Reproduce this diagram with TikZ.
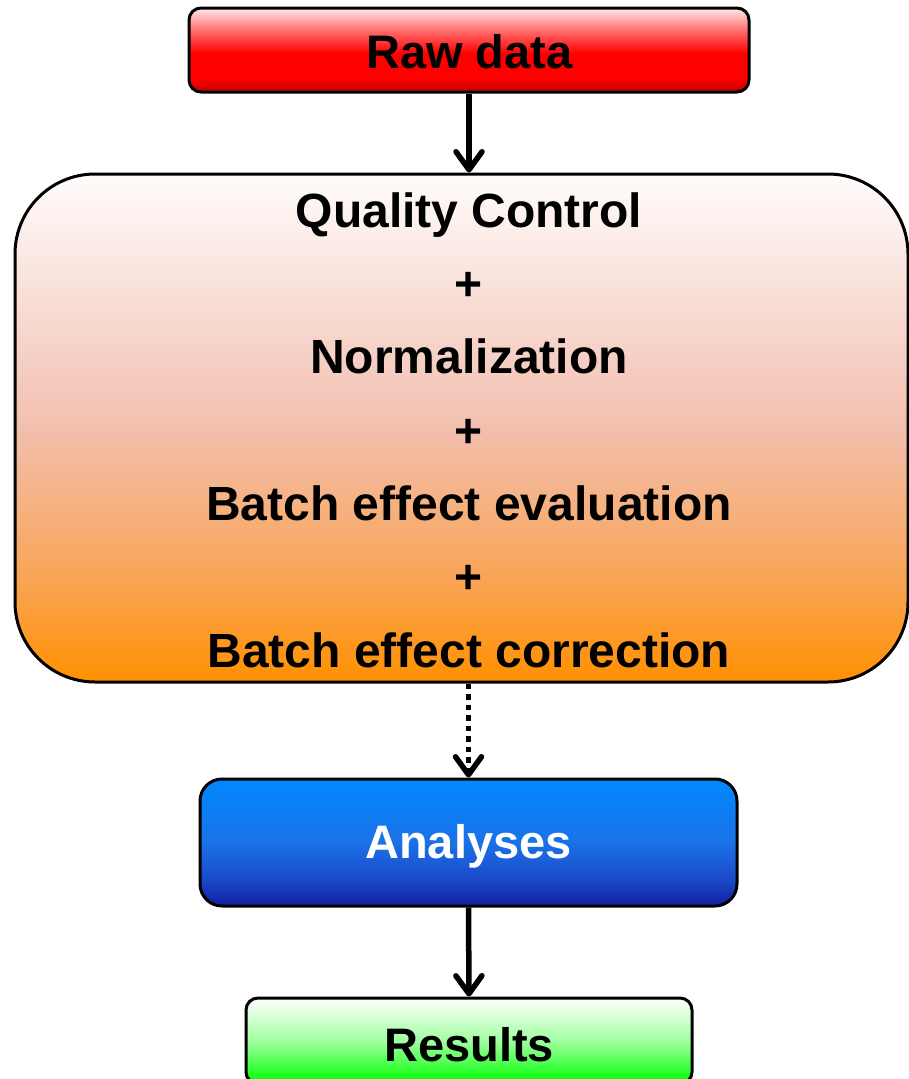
\documentclass[tikz,border=0pt]{standalone}
\usepackage{fontspec}
\setmainfont{Liberation Sans}
\usetikzlibrary{arrows.meta}
\definecolor{rawtop}{HTML}{FFEAEA}
\definecolor{rawmid}{HTML}{FF7070}
\definecolor{rawred}{HTML}{FF0000}
\definecolor{rawbot}{HTML}{C00000}
\definecolor{qctop}{HTML}{FFFCFC}
\definecolor{qcmid}{HTML}{F8DCD4}
\definecolor{qcpink}{HTML}{F2BFAE}
\definecolor{qcor}{HTML}{F9A455}
\definecolor{qcbot}{HTML}{FF9000}
\definecolor{antop}{HTML}{0088FF}
\definecolor{anmid}{HTML}{1A72E6}
\definecolor{anlow}{HTML}{1C4ACB}
\definecolor{anbot}{HTML}{1020A0}
\definecolor{restop}{HTML}{FFFFFF}
\definecolor{resmid}{HTML}{A0FFA0}
\definecolor{resbot}{HTML}{10FF10}
\pgfdeclareverticalshading{rawshade}{100bp}{color(0bp)=(rawbot); color(25bp)=(rawbot); color(33bp)=(rawred); color(48bp)=(rawred); color(62bp)=(rawmid); color(75bp)=(rawtop); color(100bp)=(rawtop)}
\pgfdeclareverticalshading{qcshade}{100bp}{color(0bp)=(qcbot); color(25bp)=(qcbot); color(35bp)=(qcor); color(50bp)=(qcpink); color(62bp)=(qcmid); color(75bp)=(qctop); color(100bp)=(qctop)}
\pgfdeclareverticalshading{anshade}{100bp}{color(0bp)=(anbot); color(25bp)=(anbot); color(36bp)=(anlow); color(50bp)=(anmid); color(75bp)=(antop); color(100bp)=(antop)}
\pgfdeclareverticalshading{resshade}{100bp}{color(0bp)=(resbot); color(28bp)=(resbot); color(50bp)=(resmid); color(75bp)=(restop); color(100bp)=(restop)}
\tikzset{
  box/.style={draw=black, line width=3pt, rounded corners=12pt, inner sep=0pt},
  bigtxt/.style={font=\fontsize{48}{48}\selectfont\bfseries, anchor=base, inner sep=0pt},
  smalltxt/.style={font=\fontsize{47}{47}\selectfont\bfseries, anchor=base, inner sep=0pt},
  flow/.style={line width=5.5pt, -{Straight Barb[length=18pt,width=26pt,line cap=round,line join=round]}},
  dotflow/.style={flow, dash pattern=on 5.5pt off 5pt}
}
\begin{document}
\begin{tikzpicture}[x=1pt,y=-1pt]
\useasboundingbox (0,0) rectangle (909,1079);
% boxes
\node[box, shading=rawshade, minimum width=560pt, minimum height=84pt] (raw) at (469,50) {};
\node[box, shading=qcshade, rounded corners=80pt, minimum width=893pt, minimum height=508pt] (qc) at (461.5,428) {};
\node[box, shading=anshade, rounded corners=22pt, minimum width=537pt, minimum height=127pt] (ana) at (468.5,842.5) {};
\node[box, shading=resshade, minimum width=446pt, minimum height=86pt] (res) at (469,1041) {};
% texts
\node[smalltxt] (rawt) at (469.5,68) {Raw data};
\node[bigtxt] (q1) at (469,227) {Quality Control};
\node[bigtxt] (p1) at (469,300) {+};
\node[bigtxt] (q2) at (469,373.5) {Normalization};
\node[bigtxt] (p2) at (469,447) {+};
\node[bigtxt] (q3) at (469,520) {Batch effect evaluation};
\node[bigtxt] (p3) at (469,593.5) {+};
\node[bigtxt] (q4) at (469,667) {Batch effect correction};
\node[smalltxt, text=white] (anat) at (468.5,858) {Analyses};
\node[smalltxt] (rest) at (469,1061) {Results};
% connectors
\draw[flow] (raw.south) -- (raw.south |- qc.north);
\draw[dotflow] (ana.north |- qc.south) -- (ana.north);
\draw[flow] (ana.south) -- (res.north);
\end{tikzpicture}
\end{document}
